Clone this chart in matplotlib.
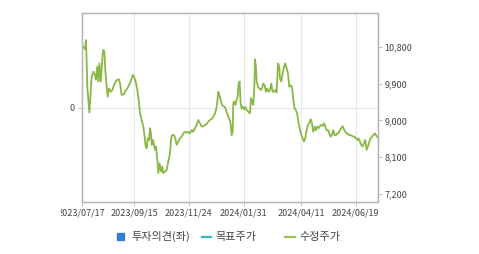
import matplotlib
matplotlib.use("Agg")
import matplotlib.pyplot as plt
from matplotlib.patches import Rectangle
from matplotlib.lines import Line2D
from matplotlib.transforms import Bbox

plt.rcParams["font.family"] = ["Noto Sans CJK KR", "DejaVu Sans"]

# trading-day offset from 2023/07/17 and adjusted close (수정주가)
day = [0.0, 2.7, 3.5, 4.1, 4.6, 6.3, 8.2, 9.6, 10.9, 11.7, 12.8, 13.7, 14.5, 15.6,
       16.4, 17.2, 17.8, 18.6, 19.4, 20.5, 21.3, 22.4, 23.8, 25.2, 26.5, 27.9,
       29.3, 30.6, 31.5, 32.8, 34.7, 36.1, 37.5, 38.8, 40.2, 41.9, 42.9, 44.3,
       45.7, 46.8, 47.9, 49.2, 50.6, 51.7, 52.3, 53.4, 54.2, 55.3, 56.1, 56.9,
       57.5, 58.6, 59.4, 60.2, 61.0, 62.1, 62.9, 64.0, 65.1, 66.2, 67.0, 68.4,
       69.8, 71.1, 72.5, 73.3, 74.2, 75.8, 76.9, 78.0, 79.4, 80.7, 82.1, 83.5,
       84.8, 86.2, 87.6, 88.9, 90.3, 91.7, 93.0, 94.4, 95.8, 97.2, 98.5, 99.9,
       101.3, 102.6, 104.0, 105.4, 106.7, 108.1, 109.5, 110.9, 112.2, 113.0,
       114.1, 115.2, 116.3, 117.7, 119.0, 120.4, 121.2, 122.3, 123.1, 124.0,
       124.5, 125.3, 126.4, 127.2, 128.1, 128.9, 129.7, 130.5, 131.4, 132.2,
       133.3, 134.4, 135.5, 136.8, 138.2, 139.0, 140.1, 140.9, 141.8, 142.3,
       143.1, 143.7, 144.8, 145.9, 147.0, 148.1, 149.1, 150.2, 151.3, 152.4,
       153.5, 154.6, 155.7, 156.8, 157.9, 159.0, 160.1, 161.2, 162.3, 162.8,
       163.9, 165.0, 166.1, 167.2, 168.3, 169.4, 170.5, 171.6, 172.7, 173.8,
       174.9, 176.0, 177.1, 178.2, 179.3, 180.4, 181.5, 182.5, 183.6, 184.7,
       185.8, 186.9, 188.0, 189.1, 190.2, 191.3, 192.4, 193.5, 194.6, 195.7,
       196.8, 197.9, 199.0, 200.1, 201.2, 202.3, 203.4, 204.4, 205.5, 206.6,
       207.7, 208.8, 209.9, 211.0, 212.1, 213.2, 214.3, 215.4, 216.5, 217.6,
       218.7, 219.8, 220.9, 222.0, 223.1, 224.2, 225.3, 226.4, 227.4, 228.5,
       229.6, 230.7, 231.8, 232.9, 234.0, 235.1, 236.2, 237.3, 238.4, 239.5,
       240.6, 241.7, 242.8, 243.6]
price = [10840, 10740, 10960, 10390, 9820, 9190, 10070, 10190, 10110, 9990, 10310,
         9950, 10390, 9950, 10230, 10640, 10720, 10680, 10230, 9820, 9580, 9780,
         9700, 9740, 9860, 9950, 9990, 10000, 9900, 9620, 9640, 9730, 9780, 9860,
         9950, 10110, 10070, 9950, 9740, 9500, 9170, 9010, 8850, 8600, 8400, 8320,
         8560, 8520, 8810, 8680, 8400, 8520, 8400, 8280, 8360, 8030, 7710, 7950,
         7750, 7870, 7710, 7750, 7790, 7990, 8190, 8520, 8640, 8640, 8560, 8400,
         8480, 8560, 8600, 8680, 8720, 8700, 8720, 8680, 8760, 8720, 8810, 8890,
         9010, 8930, 8850, 8850, 8890, 8910, 8970, 9010, 9030, 9090, 9170, 9330,
         9700, 9620, 9500, 9380, 9350, 9320, 9210, 9090, 9050, 8930, 8640, 8720,
         9420, 9460, 9380, 9500, 9580, 9900, 9950, 9420, 9290, 9330, 9270, 9330,
         9250, 9210, 9170, 9540, 9460, 9380, 9820, 10490, 10310, 9950, 9820, 9780,
         9740, 9780, 9900, 9860, 9700, 9780, 9700, 9740, 9900, 9700, 9700, 9740,
         9680, 10390, 10310, 10030, 9950, 10150, 10310, 10390, 10270, 10150, 9820,
         9860, 9820, 9500, 9290, 9250, 9130, 8930, 8760, 8640, 8560, 8480, 8560,
         8760, 8890, 8930, 9030, 8930, 8720, 8850, 8760, 8850, 8810, 8860, 8890,
         8860, 8930, 8850, 8760, 8760, 8680, 8600, 8640, 8760, 8640, 8640, 8680,
         8700, 8760, 8810, 8860, 8780, 8720, 8680, 8670, 8640, 8640, 8620, 8600,
         8600, 8560, 8520, 8560, 8480, 8400, 8360, 8440, 8520, 8280, 8360, 8480,
         8560, 8600, 8640, 8680, 8640, 8600, 8560]

tick_day = [0, 43, 88, 133, 180, 225]
tick_labels = ["2023/07/17", "2023/09/15", "2023/11/24", "2024/01/31",
               "2024/04/11", "2024/06/19"]
price_ticks = [7200, 8100, 9000, 9900, 10800]
legend_labels = ["투자의견(좌)", "목표주가", "수정주가"]
legend_colors = ["#2f7ed8", "#3cb4c8", "#9cc05a"]

W, H = 479, 254
fig = plt.figure(figsize=(W / 100, H / 100), dpi=100)
ax = fig.add_axes([81.7 / W, 1 - 201.7 / H, (378.3 - 81.7) / W, (201.7 - 13.3) / H])

ax.set_xlim(0, 243.6)
ax.set_ylim(-1, 1)
ax.set_yticks([0])
ax.set_yticklabels(["0"])
ax.set_xticks(tick_day)
ax.set_xticklabels(tick_labels)
ax.grid(True, color="#e8e8e8", linewidth=0.8)
ax.set_axisbelow(True)
for s in ax.spines.values():
    s.set_color("#b4b4b4")
    s.set_linewidth(0.9)
ax.tick_params(axis="x", length=3, width=0.6, color="#b4b4b4", pad=2,
               labelsize=6.5, labelcolor="#444444")
ax.tick_params(axis="y", length=3, width=0.6, color="#b4b4b4", pad=2,
               labelsize=6.5, labelcolor="#444444")

ax2 = ax.twinx()
ax2.plot(day, price, color="#8ab845", linewidth=1.3)
ax2.set_ylim(7012, 11616)
ax2.set_yticks(price_ticks)
ax2.set_yticklabels([f"{v:,}" for v in price_ticks])
for s in ax2.spines.values():
    s.set_color("#b4b4b4")
    s.set_linewidth(0.9)
ax2.tick_params(axis="y", length=3, width=0.6, color="#b4b4b4", pad=1.5,
                labelsize=6.5, labelcolor="#444444")

# first date label is cut off on its left side in the original
fig.canvas.draw()
ax.get_xticklabels()[0].set_clip_box(Bbox([[60.5, 0], [W, H]]))
ax.get_xticklabels()[0].set_clip_on(True)

# legend drawn by hand to keep the uneven spacing
ly = 1 - 236.7 / H
fig.add_artist(Rectangle((117.3 / W, 1 - 240 / H), 7 / W, 7 / H,
                         transform=fig.transFigure, color=legend_colors[0]))
fig.add_artist(Line2D([202.3 / W, 211 / W], [ly, ly], transform=fig.transFigure,
                      color=legend_colors[1], linewidth=1.6))
fig.add_artist(Line2D([285.3 / W, 295 / W], [ly, ly], transform=fig.transFigure,
                      color=legend_colors[2], linewidth=1.6))
for x0, lab in zip([131.5, 215, 299.3], legend_labels):
    fig.text(x0 / W, ly, lab, fontsize=8, color="#444444", va="center", ha="left")

fig.savefig("out.png", dpi=100)
